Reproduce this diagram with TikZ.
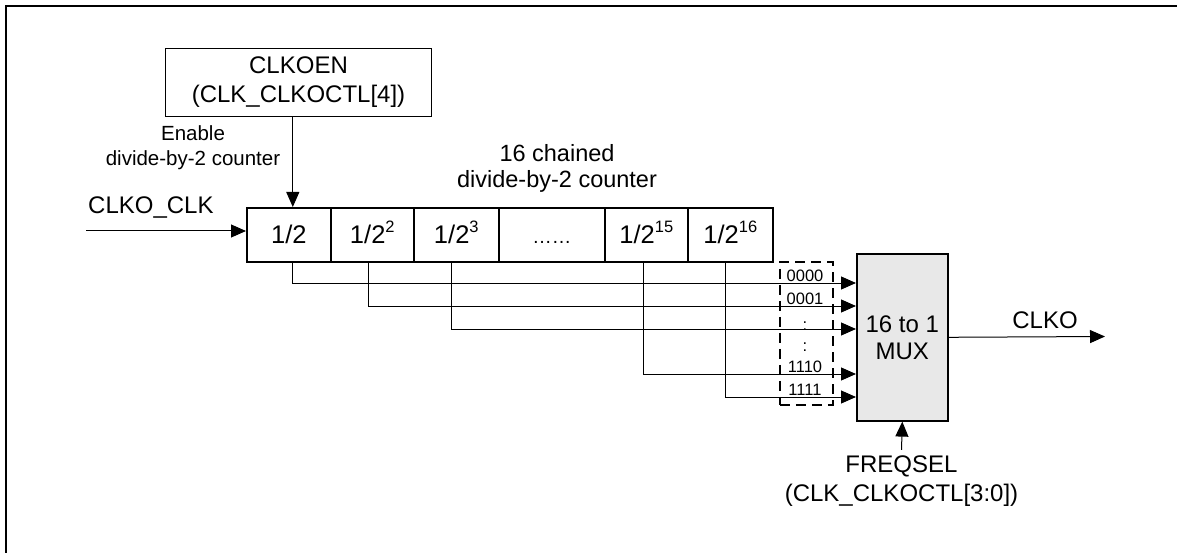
\documentclass[tikz,border=0pt]{standalone}
\usepackage{fontspec}
\setmainfont{Liberation Sans}
\usetikzlibrary{arrows.meta,calc}
\definecolor{muxfill}{RGB}{232,232,232}
\newcommand\supx[1]{\raisebox{0.42em}{\fontsize{16.5}{16.5}\selectfont #1}}
\begin{document}
\begin{tikzpicture}[x=1pt,y=-1pt,
  big/.style={font=\fontsize{24}{28}\selectfont},
  mid/.style={font=\fontsize{20.5}{25}\selectfont},
  bits/.style={font=\fontsize{16.5}{18}\selectfont, inner sep=0pt},
  cell/.style={draw, line width=1.6pt, minimum height=54pt, inner sep=0pt,
    text height=18pt, text depth=1pt, anchor=north west, font=\fontsize{25.5}{28}\selectfont},
  tap/.style={line width=1pt},
  arr/.style={line width=1pt, -{Triangle[length=15pt,width=13pt]}},
  dashbox/.style={draw, line width=1.6pt, dash pattern=on 10pt off 6pt}
]
\useasboundingbox (0,0) rectangle (1177,553);
\draw[line width=2pt] (6,553) -- (6,6) -- (1177,6);

% enable box
\node[draw, line width=1pt, minimum width=266pt, minimum height=68pt, anchor=north west,
  align=center, inner sep=0pt, font=\fontsize{24}{29}\selectfont] (clkoen) at (165,48)
  {CLKOEN\\(CLK\_CLKOCTL[4])};
\node[mid, align=center, inner sep=0pt] (entxt) at (193,147.5) {Enable\\divide-by-2 counter};

% counter cells
\node[cell, minimum width=84pt] (c1) at (246,207) {1/2};
\node[cell, minimum width=83pt] (c2) at (330,207) {1/2\supx{2}};
\node[cell, minimum width=85pt] (c3) at (413,207) {1/2\supx{3}};
\node[cell, minimum width=106pt] (c4) at (498,207) {\fontsize{19.5}{20}\selectfont ……};
\node[cell, minimum width=83pt] (c5) at (604,207) {1/2\supx{15}};
\node[cell, minimum width=85pt] (c6) at (687,207) {1/2\supx{16}};

\node[align=center, inner sep=0pt, font=\fontsize{23.5}{26}\selectfont] (chain) at (557,168.5)
  {16 chained\\divide-by-2 counter};

% clock input
\node[big, anchor=base west, inner sep=0pt] (clkin) at (88,214) {CLKO\_CLK};
\coordinate (clkstart) at (86,231);
\draw[arr] (clkstart) -- (clkstart -| c1.west);

% enable arrow
\coordinate (t1) at ($(c1.north)+(4,0)$);
\draw[arr] (clkoen.south -| t1) -- (t1);

% MUX
\node[draw, fill=muxfill, line width=1.6pt, minimum width=91pt, minimum height=167pt,
  anchor=north west, align=center, inner sep=0pt, font=\fontsize{24}{27}\selectfont] (mux) at (856,253)
  {16 to 1\\MUX};

% dashed selection box
\node[dashbox, minimum width=53pt, minimum height=143pt, anchor=north west, inner sep=0pt] (dbox) at (779,261) {};

% mux inputs
\coordinate (m1) at (856,283);
\coordinate (m2) at (856,306);
\coordinate (m3) at (856,329);
\coordinate (m4) at (856,374);
\coordinate (m5) at (856,397);

\draw[arr] ($(c1.south)+(4,0)$) |- (m1);
\draw[arr] ($(c2.south)+(-3.5,0)$) |- (m2);
\draw[arr] ($(c3.south)+(-4.5,0)$) |- (m3);
\draw[arr] ($(c5.south)+(-2.5,0)$) |- (m4);
\draw[arr] ($(c6.south)+(-4.5,0)$) |- (m5);

% bit labels
\node[bits, anchor=base] (b0) at (805,281) {0000};
\node[bits, anchor=base] (b1) at (805,304) {0001};
\node[bits] (d1) at (805,326) {:};
\node[bits] (d2) at (805,347) {:};
\node[bits, anchor=base] (b14) at (805,372) {1110};
\node[bits, anchor=base] (b15) at (805,395) {1111};

% output
\coordinate (clkoend) at (1105,336.5);
\draw[arr] (mux.east) -- (clkoend);
\node[big, anchor=base, inner sep=0pt] (clko) at (1045,328) {CLKO};

% freqsel
\node[align=center, inner sep=0pt, font=\fontsize{24}{29}\selectfont] (fsel) at (901.5,481.5)
  {FREQSEL\\(CLK\_CLKOCTL[3:0])};
\draw[arr] ($(fsel.north)+(0,-6)$) -- (mux.south);
\end{tikzpicture}
\end{document}
